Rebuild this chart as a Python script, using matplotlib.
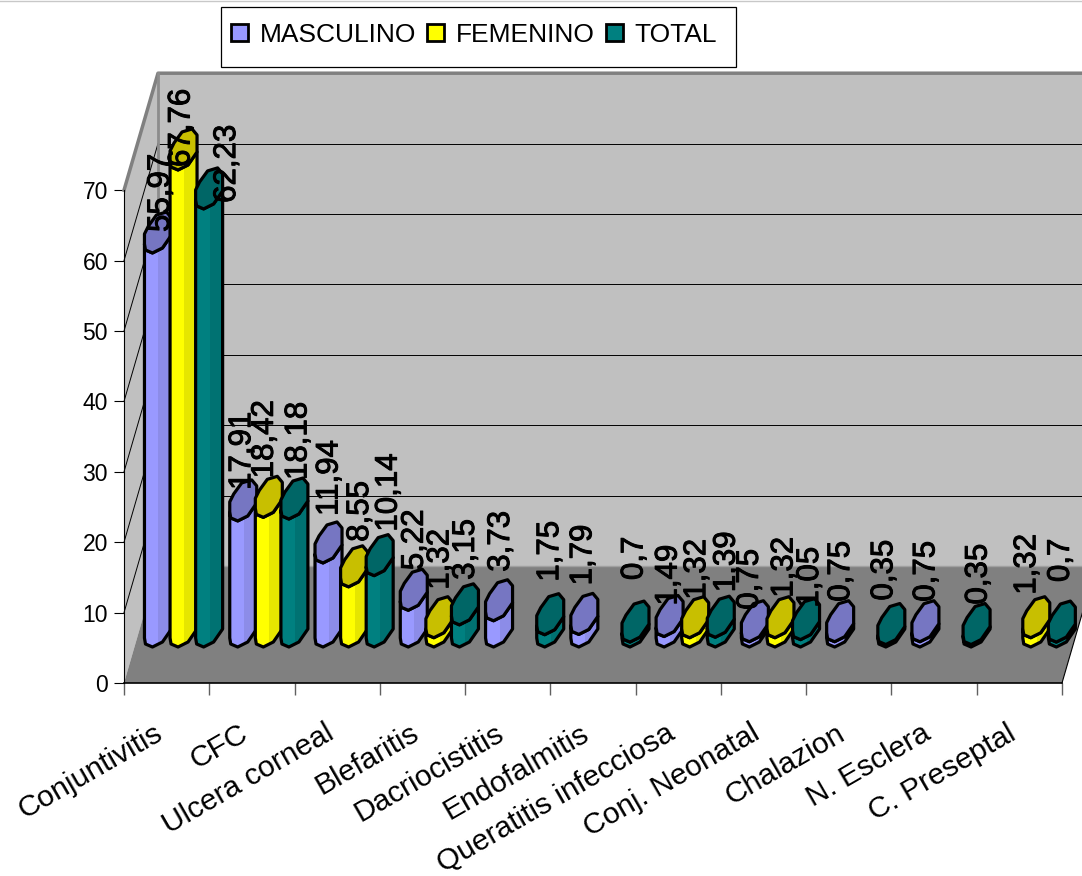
import numpy as np
import matplotlib
matplotlib.use('Agg')
import matplotlib.pyplot as plt
import matplotlib.patheffects as pe
from matplotlib.patches import Polygon, Patch, Rectangle
from matplotlib.transforms import ScaledTranslation

plt.rcParams['font.family'] = ['Liberation Sans', 'DejaVu Sans']

categories = ['Conjuntivitis', 'CFC', 'Ulcera corneal', 'Blefaritis', 'Dacriocistitis',
              'Endofalmitis', 'Queratitis infecciosa', 'Conj. Neonatal', 'Chalazion',
              'N. Esclera', 'C. Preseptal']
masculino = [55.97, 17.91, 11.94, 5.22, 3.73, 1.79, 1.49, 0.75, 0.75, 0.75, None]
femenino = [67.76, 18.42, 8.55, 1.32, None, None, 1.32, 1.32, None, None, 1.32]
total = [62.23, 18.18, 10.14, 3.15, 1.75, 0.7, 1.39, 1.05, 0.35, 0.35, 0.7]
series_names = ['MASCULINO', 'FEMENINO', 'TOTAL']

# pixel nudges of the value labels from the top of each bar (x, up)
nudge_masc = [(1, 1), (-3, 11), (-1, 27), (-1, 20), (0, 29), (-3, 29), (-3, 11), (-7, 12), (-1, 20), (-1, 20), None]
nudge_fem = [(-4, -17), (-6, 19), (4, 25), (-1, 28), None, None, (0, 18), (2, 20), None, None, (-11, 23)]
nudge_tot = [(16, -14), (2, 19), (7, 24), (-1, 25), (-2, 33), (-3, 42), (4, 25), (2, 12), (-9, 24), (0, 20), (-3, 40)]

# colours: body, body right side, cap
colors = [('#9999ff', '#8c8ce8', '#7676c2'),
          ('#ffff00', '#e6e600', '#c8bf00'),
          ('#008080', '#007272', '#006666')]

W, H = 1082, 876
px_x = 938 / 11.0      # pixels per category
px_y = 7.04            # pixels per unit
depth_x = 34 / px_x
depth_y = 117 / px_y
base_y = 56 / px_y     # where bars stand on the floor
bar_w = 26 / px_x
offsets = [0.24, 0.54, 0.84]

# outline of the tilted cap, pixels from its centre
cap_x = np.array([-13, -12, -5, 5, 14, 14, 9, -1, -9, -13])
cap_y = np.array([-11, -17, -20, -15, -2, 15, 21, 18, 7, -1])

fig = plt.figure(figsize=(W / 100, H / 100), dpi=100)
ax = fig.add_axes([0, 0, 1, 1])
ax.set_xlim(-124 / px_x, (W - 124) / px_x)
ax.set_ylim(-(H - 683) / px_y, 683 / px_y)
ax.patch.set_visible(False)

n = len(categories)
top = 70
# walls and floor
ax.add_patch(Polygon([(depth_x, depth_y), (n + 1, depth_y), (n + 1, depth_y + top), (depth_x, depth_y + top)],
                     fc='#c0c0c0', ec='none', zorder=1))
ax.add_patch(Polygon([(0, 0), (depth_x, depth_y), (depth_x, depth_y + top), (0, top)],
                     fc='#c0c0c0', ec='none', zorder=1))
ax.add_patch(Polygon([(0, 0), (n, 0), (n + depth_x, depth_y), (depth_x, depth_y)],
                     fc='#808080', ec='none', zorder=1.5))
for v in range(10, top, 10):
    ax.plot([depth_x, n + 1], [depth_y + v, depth_y + v], color='black', lw=0.7, zorder=2)
    ax.plot([0, depth_x], [v, depth_y + v], color='black', lw=0.7, zorder=2)
ax.plot([0, depth_x, n + 1], [top, depth_y + top, depth_y + top], color='#808080', lw=2.5, zorder=2)
ax.plot([depth_x, depth_x], [depth_y, depth_y + top], color='#8c8c8c', lw=2, zorder=2)
ax.plot([depth_x, n + 1], [depth_y, depth_y], color='#a0a0a0', lw=1, zorder=2)
ax.plot([n, n + depth_x], [0, depth_y], color='black', lw=0.8, zorder=2)

# bars
z = 3
all_series = [masculino, femenino, total]
all_nudges = [nudge_masc, nudge_fem, nudge_tot]
for i in range(n):
    for s in range(3):
        v = all_series[s][i]
        if v is None:
            continue
        body, side, cap = colors[s]
        xc = i + offsets[s] + bar_w / 2
        yc = base_y + v
        capx = xc + cap_x / px_x
        capy = yc + cap_y / px_y
        basey = base_y + cap_y / px_y
        # lower half of the base, then back up over the lower half of the cap
        low = [0, 1, 2, 3, 4]
        outline = [(capx[j], basey[j]) for j in low] + [(capx[j], capy[j]) for j in low[::-1]]
        poly = Polygon(outline, fc=body, ec='none', zorder=z)
        ax.add_patch(poly)
        strip = ax.fill_between([xc + 1 / px_x, xc + 14 / px_x], -5, 90, color=side, lw=0, zorder=z)
        strip.set_clip_path(poly)
        ax.add_patch(Polygon(outline, fc='none', ec='black', lw=2.3, joinstyle='round', zorder=z))
        ax.add_patch(Polygon(list(zip(capx, capy)), fc=cap, ec='black', lw=2.3, joinstyle='round', zorder=z))
        z += 0.01
        dx, dy = all_nudges[s][i]
        t = ax.annotate(f'{v}'.replace('.', ','), (xc, yc), xytext=(dx + 2.5, dy), textcoords='offset pixels',
                        rotation=90, ha='center', va='bottom', fontsize=22.5, color='black', zorder=20)
        t.set_path_effects([pe.withStroke(linewidth=0.7, foreground='black')])

# axes
for name in ['top', 'right']:
    ax.spines[name].set_visible(False)
ax.spines['left'].set_position(('data', 0))
ax.spines['bottom'].set_position(('data', 0))
ax.spines['left'].set_bounds(0, top)
ax.spines['bottom'].set_bounds(0, n)
ax.spines['left'].set_zorder(2.5)
ax.spines['bottom'].set_linewidth(1.2)
ax.set_yticks(range(0, top + 1, 10))
ax.set_xticks(range(n + 1))
ax.set_xticklabels([])
ax.tick_params(axis='y', length=7.5, width=0.8, labelsize=16.5, pad=4)
ax.tick_params(axis='x', length=8.5, width=1, color='#606060')
ax.set_xticks(np.arange(n) + 0.5, minor=True)
labels = ax.set_xticklabels(categories, minor=True, rotation=30, ha='right', va='top',
                            rotation_mode='anchor', fontsize=21.5)
ax.tick_params(axis='x', which='minor', length=0, pad=26)
shift = ScaledTranslation(-13 / 100, 0, fig.dpi_scale_trans)
for lab in labels:
    lab.set_transform(lab.get_transform() + shift)

# legend box
fig.add_artist(Rectangle((221 / W, 1 - 67 / H), 515 / W, 60 / H, fc='white', ec='black', lw=0.9,
                         transform=fig.transFigure, zorder=5))
fig.add_artist(plt.Line2D([0, 1], [1 - 0.5 / H, 1 - 0.5 / H], color='#c8c8c8', lw=1, transform=fig.transFigure))
handles = [Patch(fc=c[0], ec='black', lw=2) for c in colors]
leg = fig.legend(handles, series_names, ncol=3, loc='center left', bbox_to_anchor=(231 / W, 1 - 35 / H),
                 bbox_transform=fig.transFigure, fontsize=19, frameon=False, handlelength=0.64,
                 handleheight=0.64, handletextpad=0.45, columnspacing=0.42, borderpad=0, borderaxespad=0)
leg.set_zorder(6)

plt.savefig('out.png', dpi=100)
